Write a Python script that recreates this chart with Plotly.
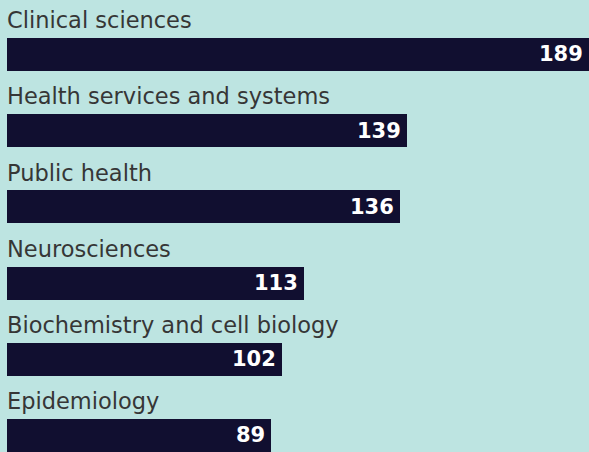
import plotly.graph_objects as go

categories = ["Clinical sciences", "Health services and systems", "Public health",
              "Neurosciences", "Biochemistry and cell biology", "Epidemiology"]
counts = [189, 139, 136, 113, 102, 89]
# bar lengths as drawn in the picture (scale where the longest bar = 189)
bar_lengths = [189, 129.9, 127.6, 96.4, 89.3, 85.7]

BG = "#bde4e1"
BAR = "#110f30"
positions = list(range(len(categories)))

fig = go.Figure()
fig.add_trace(go.Bar(
    x=bar_lengths, y=positions, orientation="h",
    marker=dict(color=BAR, line=dict(width=0)),
    width=0.433, hoverinfo="skip",
))

for i, (cat, n, L) in enumerate(zip(categories, counts, bar_lengths)):
    fig.add_annotation(x=0, y=i - 0.45, xref="x", yref="y", text=cat,
                       showarrow=False, xanchor="left", yanchor="middle",
                       xshift=-2,
                       font=dict(family="DejaVu Sans", size=22.5, color="#363636"))
    fig.add_annotation(x=L, y=i, xref="x", yref="y", text=f"<b>{n}</b>",
                       showarrow=False, xanchor="right", yanchor="middle",
                       xshift=-4,
                       font=dict(family="DejaVu Sans", size=21, color="#ffffff"))

fig.update_layout(
    width=589, height=452,
    margin=dict(l=7, r=0, t=0, b=0),
    paper_bgcolor=BG, plot_bgcolor=BG,
    showlegend=False,
    xaxis=dict(range=[0, 189], visible=False, fixedrange=True),
    yaxis=dict(range=[5.217, -0.715], visible=False, fixedrange=True),
    bargap=0,
)
fig.write_html("out.html", config={"displayModeBar": False},
               post_script="document.body.style.margin='0';document.body.style.overflow='hidden';")
